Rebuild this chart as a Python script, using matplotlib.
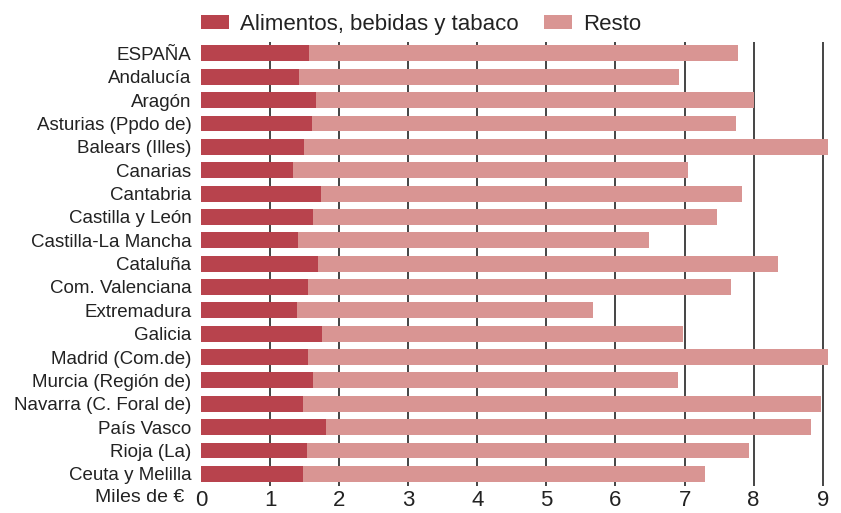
import matplotlib.pyplot as plt
import numpy as np

regiones = ["ESPAÑA", "Andalucía", "Aragón", "Asturias (Ppdo de)", "Balears (Illes)",
            "Canarias", "Cantabria", "Castilla y León", "Castilla-La Mancha", "Cataluña",
            "Com. Valenciana", "Extremadura", "Galicia", "Madrid (Com.de)",
            "Murcia (Región de)", "Navarra (C. Foral de)", "País Vasco", "Rioja (La)",
            "Ceuta y Melilla"]
alimentos = [1.56, 1.42, 1.67, 1.60, 1.49, 1.33, 1.74, 1.62, 1.40, 1.69,
             1.55, 1.39, 1.75, 1.55, 1.62, 1.47, 1.81, 1.53, 1.47]
total = [7.77, 6.92, 8.01, 7.74, 9.08, 7.05, 7.83, 7.47, 6.49, 8.35,
         7.67, 5.67, 6.98, 9.08, 6.90, 8.97, 8.83, 7.93, 7.30]
resto = [t - a for t, a in zip(total, alimentos)]
xticks = list(range(10))

c_alim = "#B8434D"
c_resto = "#D99593"
txt = "#222222"

plt.rcParams['font.family'] = ['Liberation Sans', 'DejaVu Sans']

fig = plt.figure(figsize=(8.41, 5.13), dpi=100)
ax = fig.add_axes([0.239, 0.0536, 0.7475, 0.865])

y = np.arange(len(regiones))
ax.barh(y, alimentos, height=0.68, color=c_alim, label="Alimentos, bebidas y tabaco",
        linewidth=0)
ax.barh(y, resto, left=alimentos, height=0.68, color=c_resto, label="Resto",
        linewidth=0)

ax.set_xlim(0, 9.1)
ax.set_ylim(len(regiones) - 0.5, -0.5)
ax.set_yticks(y)
ax.set_yticklabels(regiones, fontsize=13.5, color=txt)
ax.set_xticks(xticks)
ax.set_xticklabels([str(v) for v in xticks], fontsize=16, color=txt)
ax.tick_params(length=0, axis='y', pad=7)
ax.tick_params(length=0, axis='x', pad=3)
for s in ax.spines.values():
    s.set_visible(False)

# rejilla vertical detras de las barras (sin la del cero)
ax.set_axisbelow(True)
ax.grid(axis='x', color="#444444", lw=1.4)
ax.get_xgridlines()[0].set_visible(False)

fig.text(184 / 841, 1 - 497 / 513, "Miles de €", ha="right", va="center",
         fontsize=14, color=txt)

fig.legend(loc="upper left", bbox_to_anchor=(0.215, 1.012), ncol=2, frameon=False,
           fontsize=16, handlelength=1.26, handleheight=0.63, handletextpad=0.5,
           columnspacing=1.13, labelcolor=txt)

fig.savefig("out.png", dpi=100)
